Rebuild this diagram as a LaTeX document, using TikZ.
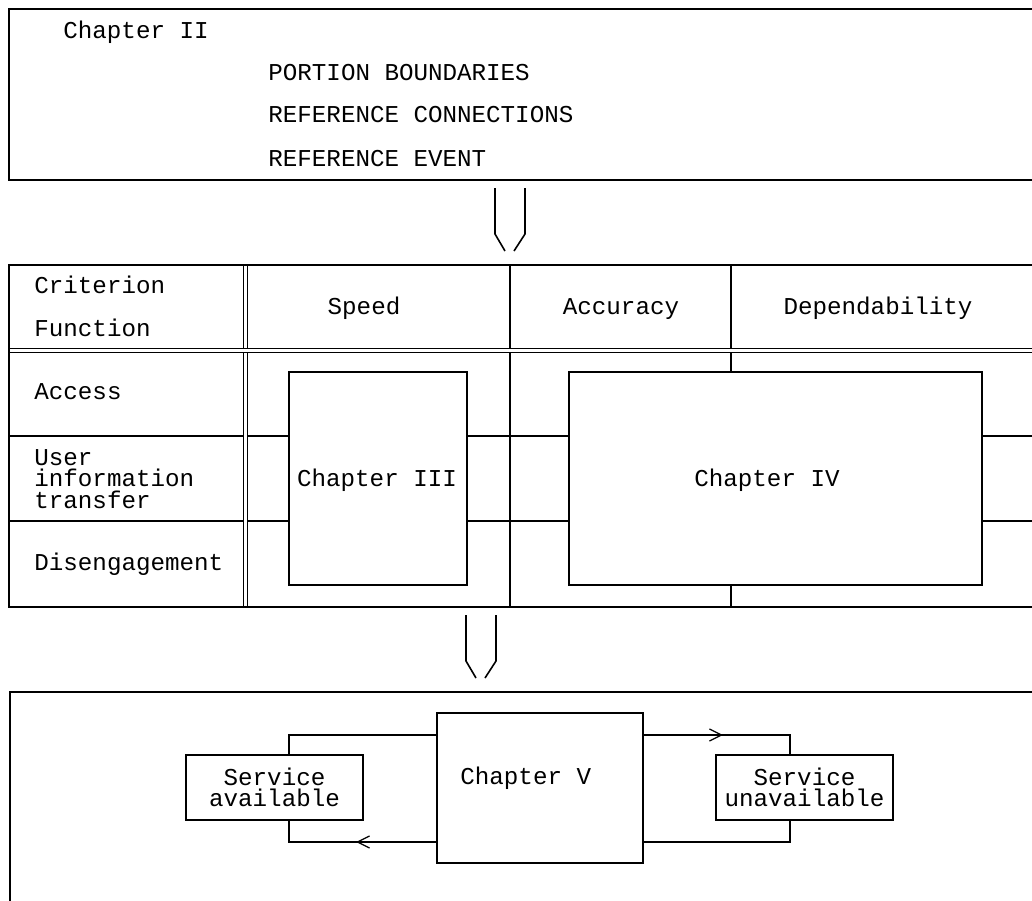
\documentclass[tikz,border=0pt]{standalone}
\usepackage{fontspec}
\setmonofont{Liberation Mono}
\usetikzlibrary{arrows.meta, positioning, fit, calc, decorations.markings}
\tikzset{
  ln/.style={line width=0.8pt},
  dbl/.style={double, line width=0.5pt, double distance=1.2pt},
  chbox/.style={draw, line width=0.8pt, inner sep=0pt},
  lbl/.style={inner sep=0pt, anchor=base west},
  ctr/.style={inner sep=0pt, anchor=base},
  twoline/.style={inner sep=0pt, align=center},
  chevat/.style={postaction={decorate}, decoration={markings,
      mark=at position #1 with {\arrow{Straight Barb[length=6pt,width=6pt,line width=0.6pt]}}}}
}

\begin{document}
\begin{tikzpicture}[x=0.5pt, y=-0.5pt, font=\ttfamily\fontsize{12.1}{10.75}\selectfont]
  \useasboundingbox (0,0) rectangle (1032,900);
  \clip (0,0) rectangle (1032,900);
  % Chapter II
  \draw[ln] (1040,9) -| (9,180) -- (1040,180);
  \node[lbl] (chII) at (63,38) {Chapter II};
  \node[lbl] (bound) at (268,80) {PORTION BOUNDARIES};
  \node[lbl] (conn) at (268,122) {REFERENCE CONNECTIONS};
  \node[lbl] (event) at (268,166) {REFERENCE EVENT};
  % hollow arrows
  \foreach \cx/\cy in {510/188,481/615}{
    \draw[ln] (\cx-15,\cy) -- (\cx-15,\cy+46) -- (\cx-5,\cy+63);
    \draw[ln] (\cx+15,\cy) -- (\cx+15,\cy+46) -- (\cx+4,\cy+63);
  }
  % criterion / function table
  \node[chbox, fit={(289,372) (467,585)}] (ch3) {};
  \node[ctr] (ch3lbl) at (377,486) {Chapter III};
  \node[chbox, fit={(569,372) (982,585)}] (ch4) {};
  \node[ctr] (ch4lbl) at (767,486) {Chapter IV};
  \draw[ln] (510,265) -- (510,607);
  \coordinate (c3t) at (731,265);
  \coordinate (c3b) at (731,607);
  \draw[ln] (c3t) -- (c3t |- ch4.north);
  \draw[ln] (c3b) -- (c3b |- ch4.south);
  \foreach \ry in {436,521}{
    \coordinate (r) at (9,\ry);
    \draw[ln] (r) -- (r -| ch3.west) (r -| ch3.east) -- (r -| ch4.west)
      (r -| ch4.east) -- ++(60,0);
  }
  \draw[dbl] (245.5,265) -- (245.5,607);
  \draw[dbl] (9,350.5) -- (1040,350.5);
  \draw[ln] (1040,265) -| (9,607) -- (1040,607);
  \node[lbl] (crit) at (34,293) {Criterion};
  \node[lbl] (func) at (34,336) {Function};
  \node[ctr] (speed) at (364,314) {Speed};
  \node[ctr] (accur) at (621,314) {Accuracy};
  \node[ctr] (depend) at (878,314) {Dependability};
  \node[lbl] (access) at (34,399) {Access};
  \node[inner sep=0pt, anchor=west, align=left] (uit) at (34,479) {User\\information\\transfer};
  \node[lbl] (diseng) at (34,570) {Disengagement};
  % Chapter V
  \draw[ln] (1040,692) -| (10,910);
  \node[chbox, fit={(437,713) (643,863)}] (chv) {};
  \node[lbl] (chvlbl) at (460,784) {Chapter V};
  \node[chbox, fit={(186,755) (363,820)}] (avail) {};
  \node[twoline] (availtxt) at (avail.center) {Service\\available};
  \node[chbox, fit={(716,755) (893,820)}] (unavail) {};
  \node[twoline] (unavailtxt) at (unavail.center) {Service\\unavailable};
  \coordinate (lt) at (289,735);
  \coordinate (lb) at (289,842);
  \coordinate (rt) at (790,735);
  \coordinate (rb) at (790,842);
  \draw[ln] (lt -| chv.west) -- (lt) -- (lt |- avail.north);
  \draw[ln, chevat=40pt] (lb -| chv.west) -- (lb) -- (lb |- avail.south);
  \draw[ln, chevat=39.5pt] (rt -| chv.east) -- (rt) -- (rt |- unavail.north);
  \draw[ln] (rb |- unavail.south) -- (rb) -- (rb -| chv.east);
\end{tikzpicture}
\end{document}
